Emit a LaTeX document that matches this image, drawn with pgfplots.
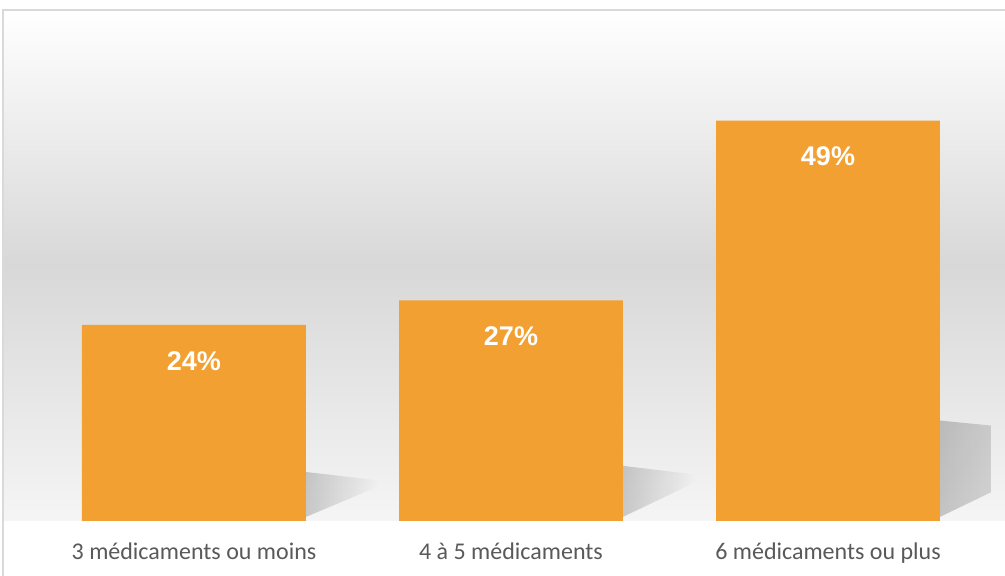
\documentclass[border=0pt]{standalone}
\usepackage{fontspec}
\setmainfont{Liberation Sans}
\newfontfamily\calib{Carlito}
\usepackage{pgfplots}
\pgfplotsset{compat=1.18}
\usetikzlibrary{fadings}
\definecolor{barorange}{HTML}{F3A032}
\definecolor{labgray}{HTML}{595959}
\definecolor{bggray}{HTML}{D8D8D8}
\definecolor{framegray}{HTML}{D9D9D9}

\begin{document}
\begin{tikzpicture}
% page = 1005 x 576 px at 0.5pt per px
\path[use as bounding box] (-1.5pt,-27.5pt) rectangle (501pt,260.5pt);
\begin{axis}[
    at={(0,0)}, anchor=south west,
    scale only axis, width=501pt, height=255.5pt,
    xmin=-0.6025, xmax=2.5584,
    ymin=0, ymax=62.55,
    axis line style={draw=none},
    ytick=\empty,
    xtick={0,1,2},
    xticklabels={3 médicaments ou moins, 4 à 5 médicaments, 6 médicaments ou plus},
    major tick length=0pt,
    xticklabel style={font=\calib\fontsize{12}{14}\selectfont, text=labgray,
        anchor=north, inner sep=0pt, yshift=-10.5pt},
    axis background/.style={shade, top color=white, bottom color=white!96!black, middle color=bggray},
    /pgf/number format/assume math mode=true,
    clip=false,
]
% soft shadows behind the bars
\fill[black, fill opacity=0.18, path fading=east]
    (axis cs:0.353,0.5) -- (axis cs:0.353,6.0) -- (axis cs:0.58,5.0) -- (axis cs:0.58,4.2) -- cycle;
\fill[black, fill opacity=0.18, path fading=east]
    (axis cs:1.353,0.5) -- (axis cs:1.353,6.75) -- (axis cs:1.58,5.7) -- (axis cs:1.58,4.7) -- cycle;
\begin{scope}
\clip (axis cs:2.3,0) rectangle (axis cs:2.514,20);
\fill[black, fill opacity=0.2, path fading=east]
    (axis cs:2.353,0.5) -- (axis cs:2.353,12.3) -- (axis cs:2.85,10.4) -- (axis cs:2.85,9.8) -- cycle;
\end{scope}

\addplot[ybar, bar width=0.7066, fill=barorange, draw=none,
    nodes near coords={\pgfmathprintnumber{\pgfplotspointmeta}\%},
    every node near coord/.append style={anchor=center, yshift=-18pt,
        font=\bfseries\fontsize{13.5}{15}\selectfont, text=white}]
    coordinates {(0,24) (1,27) (2,49)};
\end{axis}
% chart frame
\draw[framegray, line width=1.2pt] (505pt,255.5pt) -- (0,255.5pt) -- (0,-35pt);
\end{tikzpicture}
\end{document}
